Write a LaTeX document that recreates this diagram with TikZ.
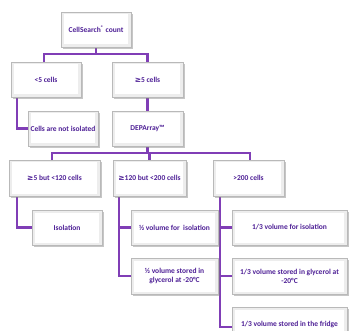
\documentclass[tikz,border=0pt]{standalone}
\usepackage{fontspec}
\setmainfont{Carlito}
\newfontfamily\symfont{DejaVu Sans}
\usetikzlibrary{shadows,backgrounds}
\definecolor{txtpurple}{RGB}{78,32,150}
\definecolor{linepurple}{RGB}{128,62,182}
\tikzset{
  box/.style={draw=gray!55, line width=0.6pt, fill=gray!14, inner sep=0pt,
    align=center, font=\fontsize{7.5}{8.8}\selectfont\bfseries, text=txtpurple,
    drop shadow={shadow xshift=1.6pt, shadow yshift=-1.6pt, opacity=0.45, fill=gray},
    path picture={\fill[white] ([shift={(3pt,2.5pt)}]path picture bounding box.south west)
      rectangle ([shift={(-3pt,-2.5pt)}]path picture bounding box.north east);},
    minimum height=35pt},
  conn/.style={draw=linepurple, line width=2.4pt},
}
\newcommand{\geqsym}{{\symfont\bfseries ≥}}
\begin{document}
\begin{tikzpicture}[x=1pt,y=-1pt]
\useasboundingbox (0,0) rectangle (361,331);
\node[box, minimum width=70pt] (A) at (96,29.5) {CellSearch\textsuperscript{®} count};
\node[box, minimum width=70pt] (B) at (46,79.5) {<5 cells};
\node[box, minimum width=71pt] (C) at (147.5,79.5) {\geqsym5 cells};
\node[box, minimum width=70pt] (D) at (63,128.5) {Cells are not isolated};
\node[box, minimum width=71pt] (E) at (147.5,128.5) {DEPArray™};
\node[box, minimum width=91pt, minimum height=36pt] (F) at (54.5,178) {\geqsym5 but <120 cells};
\node[box, minimum width=73pt, minimum height=36pt] (G) at (149.5,178) {\geqsym120 but <200 cells};
\node[box, minimum width=71pt, minimum height=36pt] (H) at (248.5,178) {>200 cells};
\node[box, minimum width=70pt] (I) at (67,227.5) {Isolation};
\node[box, minimum width=87pt] (J) at (174.5,227.5) {½ volume for\ \ isolation};
\node[box, minimum width=87pt, minimum height=36pt] (K) at (174.5,276) {½ volume stored in\\glycerol at -20°C};
\node[box, minimum width=115pt] (L) at (289.5,227.5) {1/3 volume for isolation};
\node[box, minimum width=115pt, minimum height=36pt] (M) at (289.5,276) {1/3 volume stored in glycerol at\\-20°C};
\node[box, minimum width=115pt] (N) at (289.5,324.5) {1/3 volume stored in the fridge};
\coordinate (j1) at (96,54);
\coordinate (j2) at (147.5,153);
\begin{scope}[on background layer]
\draw[conn] (A.south) -- (A.south|-j1) -| ([xshift=-2pt]B.north);
\draw[conn] (A.south|-j1) -| (C.north);
\draw[conn] ([xshift=6pt]B.south west) |- (D.west);
\draw[conn] (C.south) -- (E.north);
\draw[conn] (E.south) -- (j2) -| ([xshift=-2.5pt]F.north);
\draw[conn] (j2) -| (G.north);
\draw[conn] (j2) -| ([xshift=1.5pt]H.north);
\draw[conn] ([xshift=8pt]F.south west) |- (I.west);
\draw[conn] ([xshift=6pt]G.south west) |- (J.west);
\draw[conn] ([xshift=6pt]G.south west) |- (K.west);
\draw[conn] ([xshift=7pt]H.south west) |- (L.west);
\draw[conn] ([xshift=7pt]H.south west) |- (M.west);
\draw[conn] ([xshift=7pt]H.south west) |- ([yshift=-2.5pt]N.west);
\end{scope}
\end{tikzpicture}
\end{document}
